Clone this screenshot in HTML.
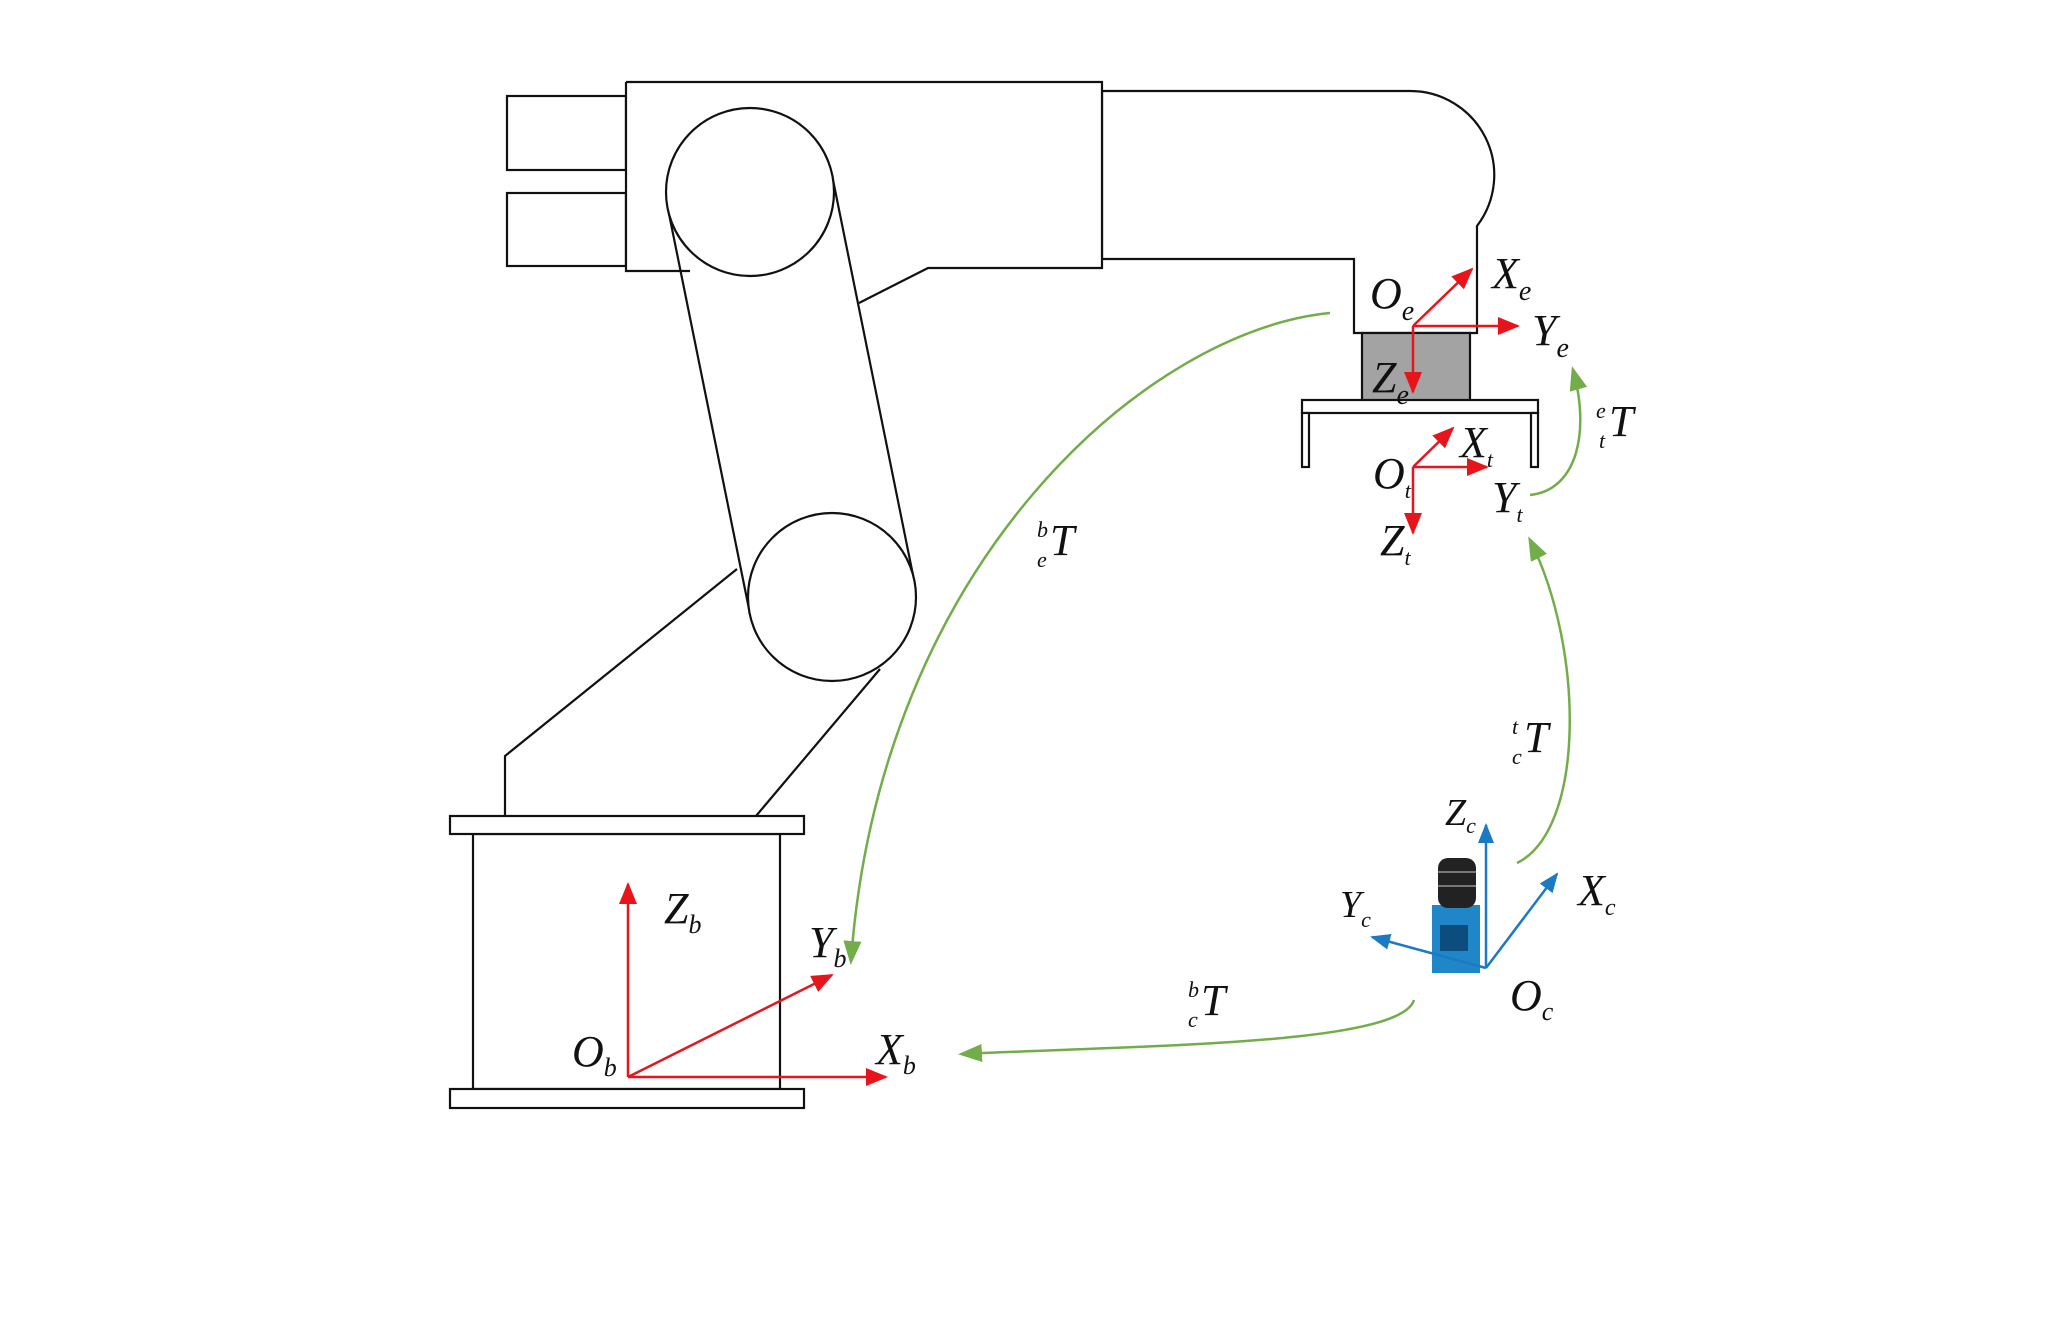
<!DOCTYPE html>
<html><head><meta charset="utf-8"><style>
html,body{margin:0;padding:0;background:#fff}
svg{display:block}
text{font-family:"Liberation Serif",serif;font-style:italic;fill:#111}
</style></head><body>
<svg width="2048" height="1328" viewBox="0 0 2048 1328" xmlns="http://www.w3.org/2000/svg">
<defs>
<marker id="rr" markerWidth="22" markerHeight="18" refX="20" refY="9" orient="auto" markerUnits="userSpaceOnUse"><path d="M0,0 L22,9 L0,18 z" fill="#e8141c"/></marker>
<marker id="bb" markerWidth="20" markerHeight="16" refX="18" refY="8" orient="auto" markerUnits="userSpaceOnUse"><path d="M0,0 L20,8 L0,16 z" fill="#1a7ac4"/></marker>
<marker id="gg" markerWidth="24" markerHeight="18" refX="20" refY="9" orient="auto" markerUnits="userSpaceOnUse"><path d="M0,0 L24,9 L0,18 z" fill="#72ad4a"/></marker>
</defs>
<g fill="#fff" stroke="#111" stroke-width="2.2">
<rect x="507" y="96" width="119" height="74"/>
<rect x="507" y="193" width="119" height="73"/>
<!-- forearm + wrist -->
<path d="M1102,91 L1410,91 A84,84 0 0 1 1477,226 L1477,333 L1354,333 L1354,259 L1102,259 Z"/>
<rect x="1362" y="333" width="108" height="79" fill="#a3a3a3"/>
<rect x="1302" y="400" width="236" height="13"/>
<rect x="1302" y="413" width="7" height="54"/>
<rect x="1531" y="413" width="7" height="54"/>
<path d="M626,82 L1102,82 L1102,268 L928,268 L859,303 M626,82 L626,271 L690,271"/>
<path d="M737,569 L505,756 L505,816 M880,669 L756,816" fill="none"/>
<path d="M832,175 L914,580 M668,209 L750,614" fill="none"/>
<circle cx="750" cy="192" r="84"/>
<circle cx="832" cy="597" r="84"/>
<rect x="473" y="834" width="307" height="255"/>
<rect x="450" y="816" width="354" height="18"/>
<rect x="450" y="1089" width="354" height="19"/>
</g>
<g stroke="#e8141c" stroke-width="2.5" fill="none">
<line x1="628" y1="1077" x2="628" y2="884" marker-end="url(#rr)"/>
<line x1="628" y1="1077" x2="886" y2="1077" marker-end="url(#rr)"/>
<line x1="628" y1="1077" x2="832" y2="975" marker-end="url(#rr)"/>
<line x1="1413" y1="326" x2="1472" y2="269" marker-end="url(#rr)"/>
<line x1="1413" y1="326" x2="1518" y2="326" marker-end="url(#rr)"/>
<line x1="1413" y1="326" x2="1413" y2="392" marker-end="url(#rr)"/>
<line x1="1413" y1="467" x2="1453" y2="428" marker-end="url(#rr)"/>
<line x1="1413" y1="467" x2="1487" y2="467" marker-end="url(#rr)"/>
<line x1="1413" y1="467" x2="1413" y2="533" marker-end="url(#rr)"/>
</g>
<rect x="1432" y="905" width="48" height="68" fill="#1f86c8"/>
<rect x="1440" y="925" width="28" height="26" fill="#0c4d7d"/>
<rect x="1438" y="858" width="38" height="50" rx="10" fill="#222"/>
<line x1="1438" y1="872" x2="1476" y2="872" stroke="#777" stroke-width="2"/>
<line x1="1438" y1="886" x2="1476" y2="886" stroke="#777" stroke-width="2"/>
<g stroke="#1a7ac4" stroke-width="2.5" fill="none">
<line x1="1486" y1="968" x2="1486" y2="825" marker-end="url(#bb)"/>
<line x1="1486" y1="968" x2="1557" y2="874" marker-end="url(#bb)"/>
<line x1="1486" y1="968" x2="1372" y2="937" marker-end="url(#bb)"/>
</g>
<g stroke="#72ad4a" stroke-width="2.5" fill="none">
<path d="M1330,313 C1150,330 880,560 851,961" marker-end="url(#gg)"/>
<path d="M1530,495 C1578,490 1590,430 1573,370" marker-end="url(#gg)"/>
<path d="M1517,863 C1585,830 1585,650 1530,540" marker-end="url(#gg)"/>
<path d="M1414,1000 C1400,1045 1150,1045 962,1054" marker-end="url(#gg)"/>
</g>
<g font-size="44">
<text x="664" y="923">Z<tspan font-size="26" dy="10">b</tspan></text>
<text x="572" y="1066">O<tspan font-size="26" dy="10">b</tspan></text>
<text x="809" y="957">Y<tspan font-size="26" dy="10">b</tspan></text>
<text x="876" y="1064">X<tspan font-size="26" dy="10">b</tspan></text>
<text x="1370" y="308">O<tspan font-size="28" dy="12">e</tspan></text>
<text x="1492" y="288">X<tspan font-size="28" dy="12">e</tspan></text>
<text x="1532" y="345">Y<tspan font-size="28" dy="12">e</tspan></text>
<text x="1372" y="392">Z<tspan font-size="28" dy="12">e</tspan></text>
<text x="1373" y="488">O<tspan font-size="22" dy="10">t</tspan></text>
<text x="1460" y="457">X<tspan font-size="22" dy="10">t</tspan></text>
<text x="1492" y="512">Y<tspan font-size="22" dy="10">t</tspan></text>
<text x="1380" y="555">Z<tspan font-size="22" dy="10">t</tspan></text>
<text x="1445" y="825" font-size="38">Z<tspan font-size="22" dy="8">c</tspan></text>
<text x="1578" y="905">X<tspan font-size="24" dy="10">c</tspan></text>
<text x="1340" y="917" font-size="38">Y<tspan font-size="22" dy="10">c</tspan></text>
<text x="1510" y="1010">O<tspan font-size="26" dy="10">c</tspan></text>
<text x="1037" y="555"><tspan font-size="22" dy="-18">b</tspan><tspan x="1037" font-size="22" dy="30">e</tspan><tspan x="1050" dy="-12">T</tspan></text>
<text x="1596" y="436"><tspan font-size="22" dy="-18">e</tspan><tspan x="1599" font-size="22" dy="30">t</tspan><tspan x="1609" dy="-12">T</tspan></text>
<text x="1512" y="752"><tspan font-size="22" dy="-18">t</tspan><tspan x="1512" font-size="22" dy="30">c</tspan><tspan x="1524" dy="-12">T</tspan></text>
<text x="1188" y="1015"><tspan font-size="22" dy="-18">b</tspan><tspan x="1188" font-size="22" dy="30">c</tspan><tspan x="1201" dy="-12">T</tspan></text>
</g>
</svg>
</body></html>
